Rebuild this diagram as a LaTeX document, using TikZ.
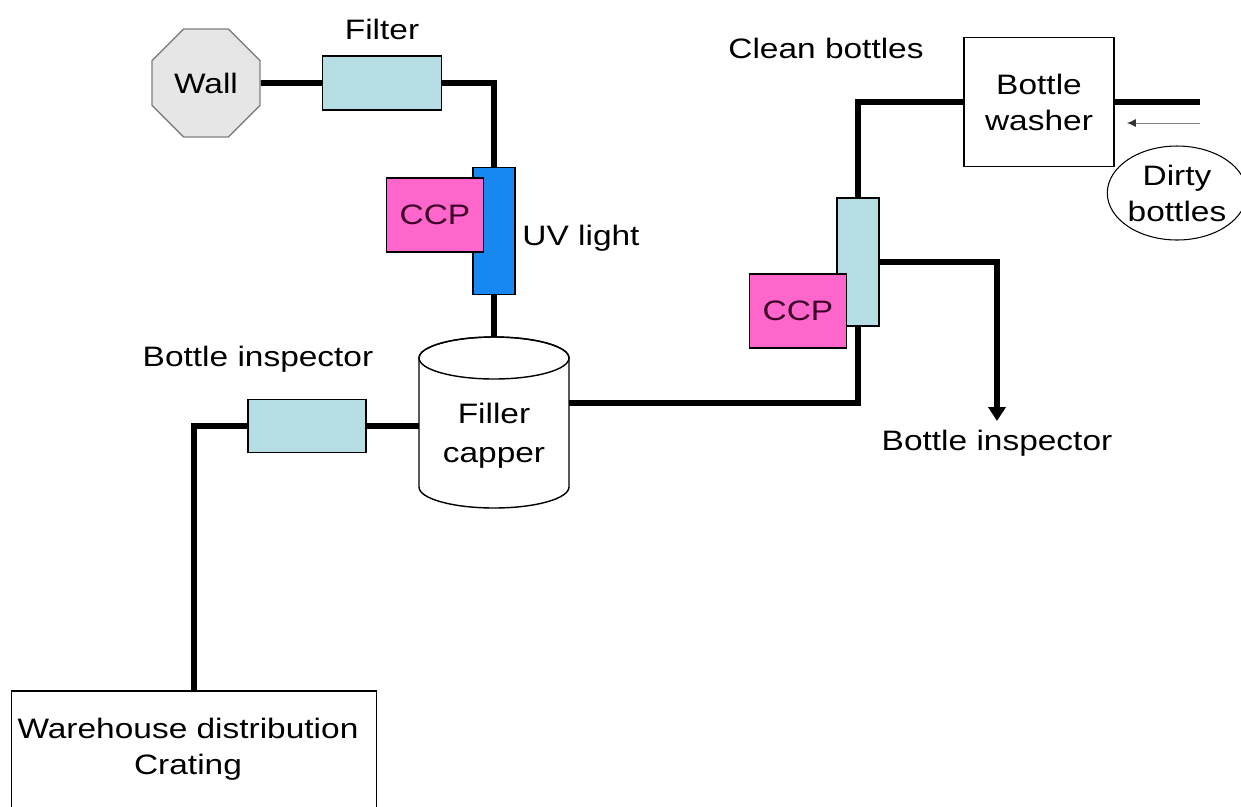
\documentclass[tikz,border=0pt]{standalone}
\usepackage{fontspec}
\setmainfont{Liberation Sans}[FakeStretch=1.19]
\usetikzlibrary{shapes.geometric,arrows.meta}
\definecolor{filterblue}{RGB}{183,221,228}
\definecolor{uvblue}{RGB}{24,136,240}
\definecolor{ccppink}{RGB}{255,102,204}
\definecolor{ccptext}{RGB}{60,0,40}
\definecolor{wallgray}{RGB}{230,230,230}
\tikzset{
  pipe/.style={line width=3.4pt},
  unit/.style={draw,line width=.8pt,inner sep=0pt},
  ccp/.style={unit,fill=ccppink,text=ccptext,minimum width=1.94cm,minimum height=1.48cm},
  lbl/.style={inner sep=0pt,align=center}
}
\begin{document}
\begin{tikzpicture}[x=.02cm,y=-.02cm,font=\fontsize{16}{20.5}\selectfont]
\useasboundingbox (0,0) rectangle (1241,806);
% water line
\node[regular polygon,regular polygon sides=8,draw=gray,line width=.8pt,fill=wallgray,minimum size=2.34cm,inner sep=0pt] (wall) at (206,83) {Wall};
\node[unit,fill=filterblue,minimum width=2.38cm,minimum height=1.08cm] (filter) at (382,83) {};
\node[lbl] (filterLbl) at (382,29) {Filter};
\node[unit,fill=uvblue,minimum width=.84cm,minimum height=2.54cm] (uv) at (494,231) {};
\node[lbl] (uvLbl) at (581,238) {UV light};
\coordinate (fillT) at (494,337);
\coordinate (fillL) at (419,426);
\coordinate (fillR) at (569,403);
\draw[pipe] (wall) -- (filter);
\draw[pipe] (filter) -| (uv);
\draw[pipe] (uv) -- (fillT);
\node[ccp] (ccpA) at (435,215) {CCP};
% filler capper
\draw[fill=white,line width=.8pt] (419,358) -- (419,487) arc[start angle=180,end angle=360,x radius=1.5cm,y radius=.42cm] -- (569,358) arc[start angle=0,end angle=180,x radius=1.5cm,y radius=.42cm] -- cycle;
\draw[line width=.8pt] (494,358) ellipse[x radius=1.5cm,y radius=.42cm];
\node[lbl,font=\fontsize{16}{22}\selectfont] (filler) at (494,436) {Filler\\capper};
% bottle line
\node[unit,fill=filterblue,minimum width=.84cm,minimum height=2.56cm] (check) at (858,262) {};
\node[unit,fill=white,minimum width=3cm,minimum height=2.58cm,align=center] (washer) at (1039,102) {Bottle\\washer};
\node[lbl] (cleanLbl) at (826,48) {Clean bottles};
\node[ellipse,draw,line width=.6pt,inner sep=0pt,minimum width=2.44cm,minimum height=1.88cm,align=center] (dirty) at (1177,193) {Dirty\\bottles};
\coordinate (inlet) at (1200,102);
\coordinate (dirtyIn) at (1200,123);
\coordinate (dirtyEnd) at (1127,123);
\coordinate (rejEnd) at (997,421);
\draw[pipe] (fillR) -| (check);
\draw[pipe] (check) |- (washer);
\draw[pipe] (washer) -- (inlet);
\draw[gray,line width=.5pt,-{Latex[length=5pt,width=4.5pt,color=black!80]}] (dirtyIn) -- (dirtyEnd);
\draw[pipe,-{Triangle[length=.28cm,width=.34cm]}] (check) -| (rejEnd);
\node[ccp] (ccpB) at (798,311) {CCP};
\node[lbl] (inspRLbl) at (997,443) {Bottle inspector};
% packing line
\node[unit,fill=filterblue,minimum width=2.36cm,minimum height=1.06cm] (insp) at (307,426) {};
\node[lbl] (inspLbl) at (258,359) {Bottle inspector};
\node[unit,fill=white,minimum width=7.3cm,minimum height=4.76cm] (ware) at (194,810) {};
\node[lbl] (wareLbl) at (188,749) {Warehouse distribution\\Crating};
\draw[pipe] (fillL) -- (insp);
\draw[pipe] (insp) -| (ware);
\end{tikzpicture}
\end{document}
